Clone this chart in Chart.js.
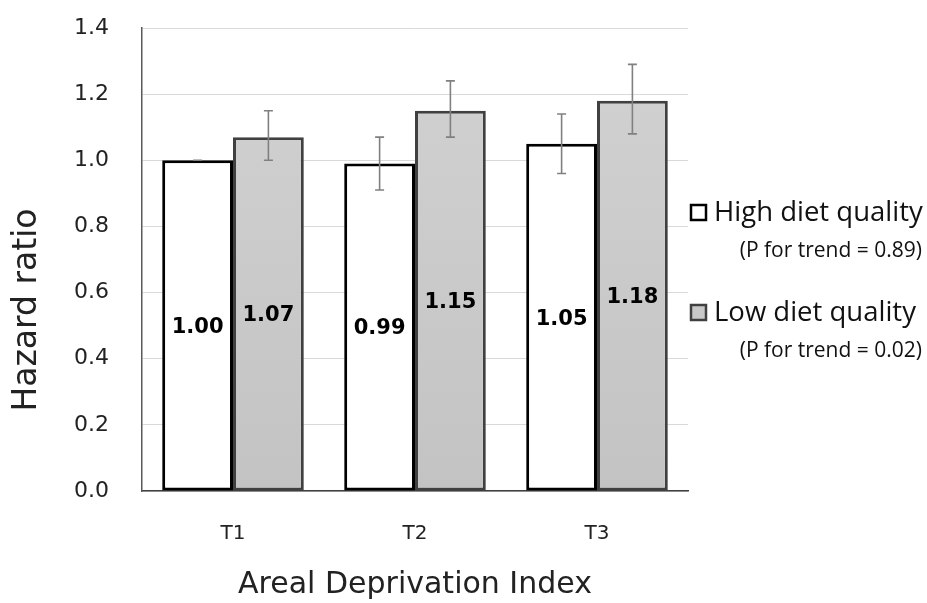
<!DOCTYPE html>
<html>
<head>
<meta charset="utf-8">
<script src="https://cdn.jsdelivr.net/npm/chart.js@4.4.0/dist/chart.umd.min.js"></script>
<style>
  html, body { margin: 0; padding: 0; background: #fff; }
  #wrap { width: 927px; height: 603px; }
</style>
</head>
<body>
<div id="wrap"><canvas id="chart" width="927" height="603"></canvas></div>
<script>
// Chart data
const categories = ["T1", "T2", "T3"];
const seriesNames = ["High diet quality", "Low diet quality"];
const trendLabels = ["(P for trend = 0.89)", "(P for trend = 0.02)"];
const yTitle = "Hazard ratio";
const xTitle = "Areal Deprivation Index";

const highValues = [1.00, 0.99, 1.05];
const lowValues = [1.07, 1.15, 1.18];

// 95% CI (error bars)
const highLower = [1.00, 0.91, 0.96];
const highUpper = [1.00, 1.07, 1.14];
const lowLower = [1.00, 1.07, 1.08];
const lowUpper = [1.15, 1.24, 1.29];

const yMin = 0;
const yMax = 1.4;
const yStep = 0.2;

const lowerBounds = [highLower, lowLower];
const upperBounds = [highUpper, lowUpper];

// gray fill with a light top-to-bottom gradient
function grayFill(ctx) {
  const chart = ctx.chart;
  const area = chart.chartArea;
  if (!area) return "#c8c8c8";
  const g = chart.ctx.createLinearGradient(0, area.top, 0, area.bottom);
  g.addColorStop(0, "#d2d2d2");
  g.addColorStop(1, "#c3c3c3");
  return g;
}

// Error bars
const errorBars = {
  id: "errorBars",
  afterDatasetsDraw(chart) {
    const ctx = chart.ctx;
    const y = chart.scales.y;
    ctx.save();
    ctx.strokeStyle = "#808080";
    ctx.lineWidth = 1.6;
    chart.data.datasets.forEach((ds, i) => {
      const meta = chart.getDatasetMeta(i);
      meta.data.forEach((bar, j) => {
        const lo = y.getPixelForValue(lowerBounds[i][j]);
        const hi = y.getPixelForValue(upperBounds[i][j]);
        const x = bar.x;
        ctx.beginPath();
        ctx.moveTo(x, lo); ctx.lineTo(x, hi);
        ctx.moveTo(x - 4.5, lo); ctx.lineTo(x + 4.5, lo);
        ctx.moveTo(x - 4.5, hi); ctx.lineTo(x + 4.5, hi);
        ctx.stroke();
      });
    });
    ctx.restore();
  }
};

// Value labels in the middle of each bar
const valueLabels = {
  id: "valueLabels",
  afterDatasetsDraw(chart) {
    const ctx = chart.ctx;
    ctx.save();
    ctx.font = "bold 21px 'DejaVu Sans'";
    ctx.fillStyle = "#000";
    ctx.textAlign = "center";
    ctx.textBaseline = "middle";
    chart.data.datasets.forEach((ds, i) => {
      chart.getDatasetMeta(i).data.forEach((bar, j) => {
        const mid = (bar.y + bar.base) / 2;
        ctx.fillText(ds.data[j].toFixed(2), bar.x, mid + 2);
      });
    });
    ctx.restore();
  }
};

// y axis title (sits lower than the plot centre in the original)
const yAxisTitle = {
  id: "yAxisTitle",
  afterDraw(chart) {
    const ctx = chart.ctx;
    ctx.save();
    ctx.translate(27, 310);
    ctx.rotate(-Math.PI / 2);
    ctx.font = "33px 'DejaVu Sans'";
    ctx.fillStyle = "#222";
    ctx.textAlign = "center";
    ctx.textBaseline = "middle";
    ctx.fillText(yTitle, 0, 0);
    ctx.restore();
  }
};

// Legend on the right with the trend p-values
const sideLegend = {
  id: "sideLegend",
  afterDraw(chart) {
    const ctx = chart.ctx;
    const rows = [213, 313];
    ctx.save();
    chart.data.datasets.forEach((ds, i) => {
      const cy = rows[i];
      ctx.fillStyle = i === 0 ? "#ffffff" : "#c8c8c8";
      ctx.fillRect(691, cy - 8, 15, 15);
      ctx.strokeStyle = i === 0 ? "#000" : "#404040";
      ctx.lineWidth = 2.5;
      ctx.strokeRect(691, cy - 8, 15, 15);

      ctx.fillStyle = "#111";
      ctx.textBaseline = "middle";
      ctx.textAlign = "left";
      ctx.font = "27.5px 'Open Sans'";
      ctx.fillText(ds.label, 714, cy);
      ctx.textAlign = "right";
      ctx.font = "21px 'Open Sans'";
      ctx.fillText(trendLabels[i], 922, cy + 38);
    });
    ctx.restore();
  }
};

new Chart(document.getElementById("chart"), {
  type: "bar",
  data: {
    labels: categories,
    datasets: [
      {
        label: seriesNames[0],
        data: highValues,
        backgroundColor: "#ffffff",
        borderColor: "#000000",
        borderWidth: 3,
        borderSkipped: false
      },
      {
        label: seriesNames[1],
        data: lowValues,
        backgroundColor: grayFill,
        borderColor: "#404040",
        borderWidth: 3,
        borderSkipped: false
      }
    ]
  },
  options: {
    responsive: false,
    animation: false,
    categoryPercentage: 0.778,
    barPercentage: 1.0,
    layout: { padding: { top: 28, right: 239, bottom: 0, left: 0 } },
    plugins: {
      legend: { display: false },
      tooltip: { enabled: false }
    },
    scales: {
      x: {
        grid: { display: false, drawTicks: false },
        border: { color: "#404040", width: 1.5 },
        ticks: {
          color: "#222",
          font: { family: "'DejaVu Sans'", size: 20 },
          padding: 31
        },
        title: {
          display: true,
          text: xTitle,
          color: "#222",
          font: { family: "'DejaVu Sans'", size: 30, lineHeight: 1 },
          padding: { top: 0, bottom: 3 }
        },
        afterFit(scale) { scale.height = 112; }
      },
      y: {
        min: yMin,
        max: yMax,
        grid: { color: "#d9d9d9", lineWidth: 1, drawTicks: false },
        border: { color: "#595959", width: 1.5 },
        ticks: {
          stepSize: yStep,
          color: "#222",
          font: { family: "'DejaVu Sans'", size: 22 },
          padding: 33,
          callback: (v) => Number(v).toFixed(1)
        },
        afterFit(scale) {
          scale.width = 142;
          scale.paddingTop = 0;
          scale.paddingBottom = 0;
        }
      }
    }
  },
  plugins: [errorBars, valueLabels, yAxisTitle, sideLegend]
});
</script>
</body>
</html>
